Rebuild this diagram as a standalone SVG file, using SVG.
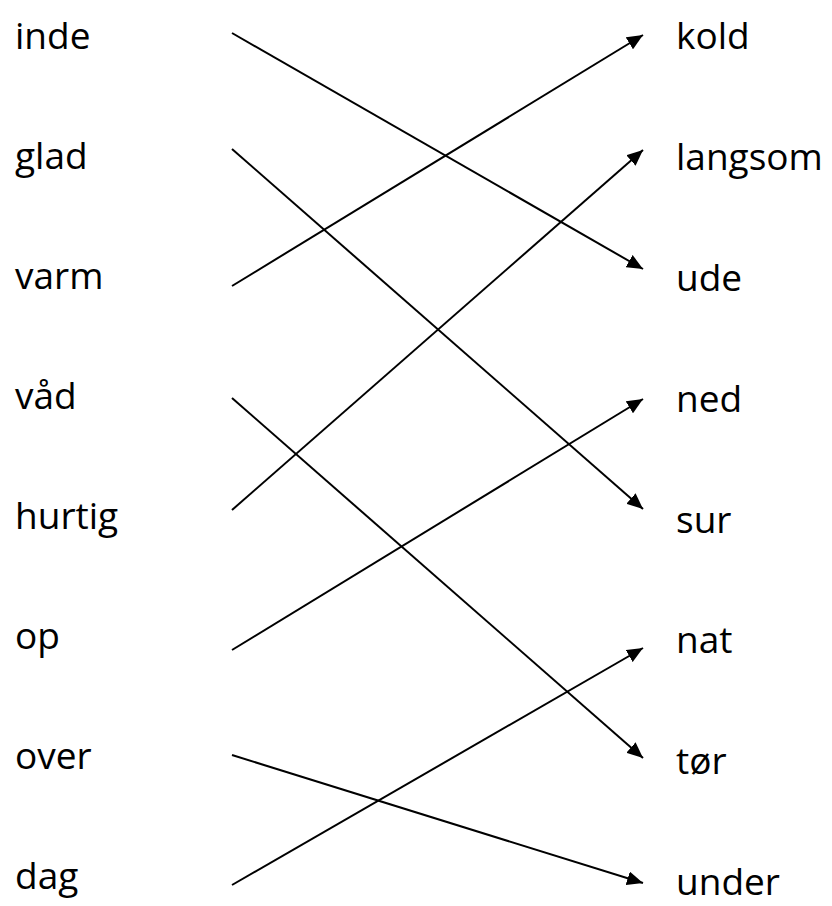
<svg xmlns="http://www.w3.org/2000/svg" width="832" height="906" viewBox="0 0 832 906">
<style>
text{font-family:"Open Sans","Noto Sans","DejaVu Sans",sans-serif;font-size:37px;fill:#000}
.c line{stroke:#000;stroke-width:2;fill:none;marker-end:url(#ah)}
</style>
<defs>
<marker id="ah" markerUnits="userSpaceOnUse" markerWidth="16" markerHeight="14" viewBox="0 0 16 14" refX="16" refY="7" orient="auto">
<path d="M0,0 L16,7 L0,14 Z" fill="#000"/>
</marker>
</defs>
<rect width="832" height="906" fill="#fff"/>
<g id="left">
<g id="n-inde"><text x="15" y="49">inde</text></g>
<g id="n-glad"><text x="15" y="169">glad</text></g>
<g id="n-varm"><text x="15" y="289">varm</text></g>
<g id="n-vaad"><text x="15" y="409">våd</text></g>
<g id="n-hurtig"><text x="15" y="529">hurtig</text></g>
<g id="n-op"><text x="15" y="649">op</text></g>
<g id="n-over"><text x="15" y="769">over</text></g>
<g id="n-dag"><text x="15" y="889">dag</text></g>
</g>
<g id="right">
<g id="n-kold"><text x="676" y="49">kold</text></g>
<g id="n-langsom"><text x="676" y="170">langsom</text></g>
<g id="n-ude"><text x="676" y="291">ude</text></g>
<g id="n-ned"><text x="676" y="412">ned</text></g>
<g id="n-sur"><text x="676" y="533">sur</text></g>
<g id="n-nat"><text x="676" y="653">nat</text></g>
<g id="n-toer"><text x="676" y="774">tør</text></g>
<g id="n-under"><text x="676" y="895">under</text></g>
</g>
<g id="connectors" class="c">
<line x1="232" y1="33" x2="643" y2="269"/>
<line x1="232" y1="149" x2="643" y2="509"/>
<line x1="232" y1="286" x2="643" y2="35"/>
<line x1="232" y1="398" x2="643" y2="758"/>
<line x1="232" y1="510" x2="643" y2="150"/>
<line x1="232" y1="650" x2="643" y2="399"/>
<line x1="232" y1="755" x2="643" y2="883"/>
<line x1="232" y1="885" x2="643" y2="648"/>
</g>
</svg>
